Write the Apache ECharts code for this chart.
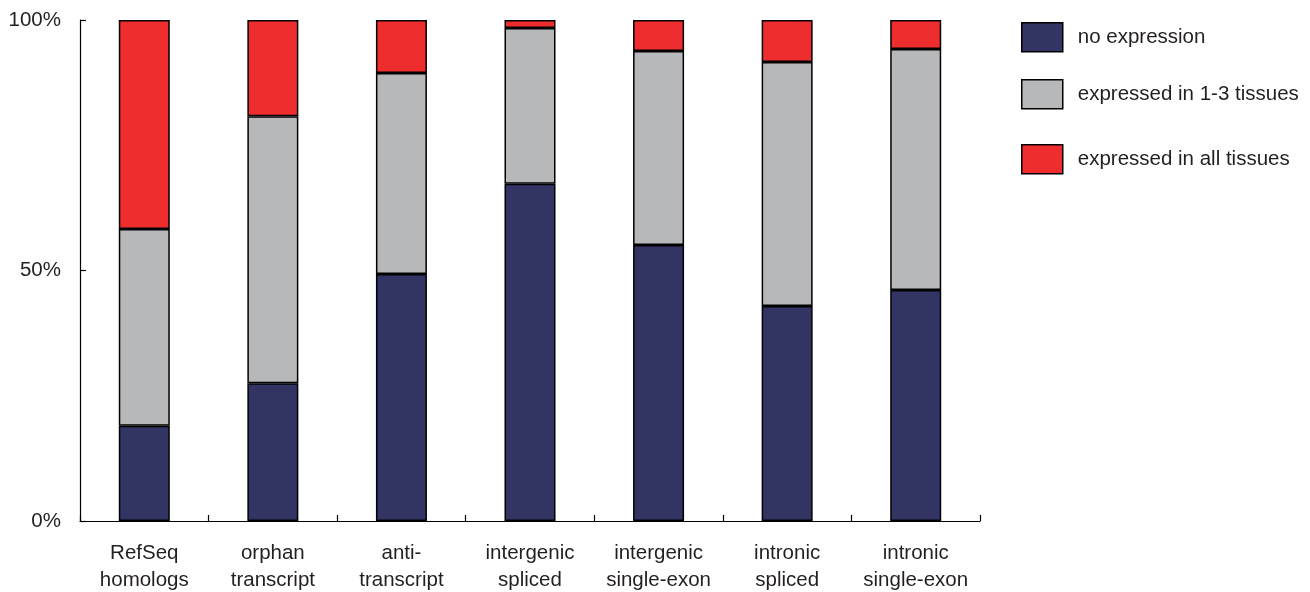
<!DOCTYPE html>
<html><head><meta charset="utf-8">
<script src="https://cdn.jsdelivr.net/npm/echarts@6/dist/echarts.min.js"></script>
<style>html,body{margin:0;padding:0;background:#fff}#c{width:1310px;height:592px}</style>
</head><body><div id="c"></div>
<script>
const categories = ["RefSeq\nhomologs","orphan\ntranscript","anti-\ntranscript","intergenic\nspliced","intergenic\nsingle-exon","intronic\nspliced","intronic\nsingle-exon"];
const noExpression = [19.0, 27.5, 49.3, 67.3, 55.1, 42.9, 46.1];
const expressed13 = [39.3, 53.3, 40.1, 31.1, 38.7, 48.7, 48.1];
const expressedAll = [41.7, 19.2, 10.6, 1.6, 6.2, 8.4, 5.8];
const yTicks = [0, 50, 100];
const seriesNames = ["no expression","expressed in 1-3 tissues","expressed in all tissues"];
const colors = ["#323463","#b7b8ba","#ee2e2e"];

const chart = echarts.init(document.getElementById('c'), null, {renderer:'canvas'});
const font = 'Liberation Sans, Arial, sans-serif';
const mk = (name, data, color) => ({
  name, type:'bar', stack:'s', data, barWidth: 51,
  itemStyle:{color, borderColor:'#000', borderWidth:1.5},
  emphasis:{disabled:true}
});
const legendTops = [22, 79, 144];
chart.setOption({
  animation:false,
  grid:{left:80, right:330, top:20, bottom:71, outerBoundsMode:'none', containLabel:false},
  legend: seriesNames.map((n,i)=>({
    data:[{name:n, icon:'rect'}], orient:'vertical', left:1021, top:legendTops[i], padding:0,
    itemWidth:41, itemHeight:29, itemGap:0,
    textStyle:{fontFamily:font, fontSize:20.5, color:'#231f20', padding:[0,0,0,10]},
    itemStyle:{borderColor:'#000', borderWidth:1.5},
    selectedMode:false
  })),
  xAxis:{type:'category', data:categories,
    axisLine:{lineStyle:{color:'#000', width:1.2}},
    axisTick:{show:true, inside:true, length:6, lineStyle:{color:'#000', width:1.2}},
    axisLabel:{fontFamily:font, fontSize:20.5, color:'#231f20', margin:19, lineHeight:27, interval:0}
  },
  yAxis:{type:'value', min:0, max:100, interval:50, position:'left',
    axisLine:{show:true, onZero:false, lineStyle:{color:'#000', width:1.2, type:'solid'}},
    axisTick:{show:true, inside:true, length:6, lineStyle:{color:'#000', width:1.2}},
    splitLine:{show:false},
    axisLabel:{fontFamily:font, fontSize:20.5, color:'#231f20', margin:19,
      formatter: v => yTicks.includes(v) ? v + '%' : ''}
  },
  series:[mk(seriesNames[0], noExpression, colors[0]), mk(seriesNames[1], expressed13, colors[1]), mk(seriesNames[2], expressedAll, colors[2])]
});
</script></body></html>
